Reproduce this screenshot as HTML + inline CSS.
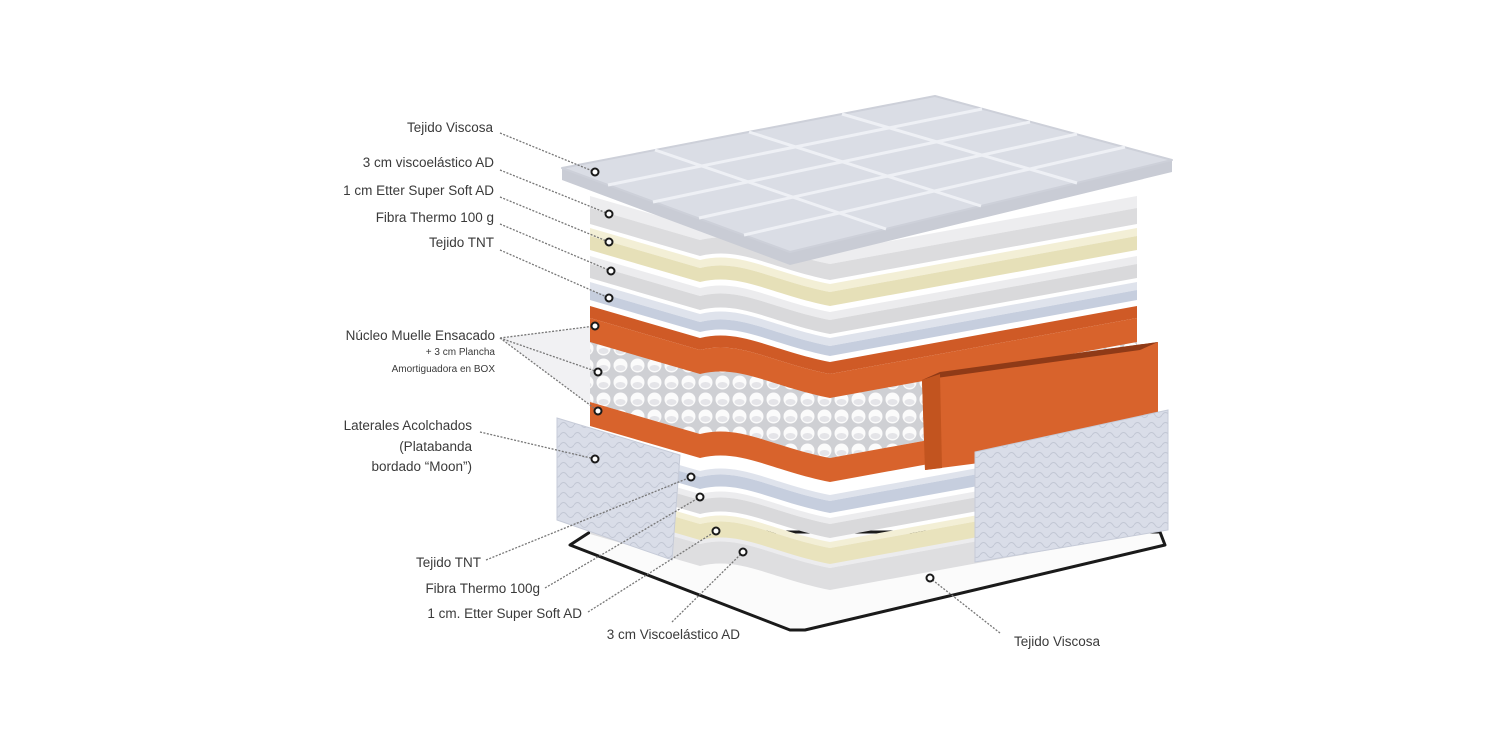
<!DOCTYPE html>
<html><head><meta charset="utf-8"><style>
html,body{margin:0;padding:0;background:#fff;}
svg{display:block;}
text{font-family:"Liberation Sans",sans-serif;fill:#3a3a3a;}
</style></head><body>
<svg width="1500" height="750" viewBox="0 0 1500 750" xmlns="http://www.w3.org/2000/svg">
<defs>
<pattern id="spr" width="17" height="17" patternUnits="userSpaceOnUse">
<rect width="17" height="17" fill="#cfd0d4"/>
<ellipse cx="8.5" cy="8.5" rx="7" ry="7" fill="#fbfbfb"/>
<ellipse cx="8.5" cy="11" rx="5" ry="3" fill="#e4e4e8"/>
</pattern>
<pattern id="quilt" width="14" height="10" patternUnits="userSpaceOnUse">
<rect width="14" height="10" fill="#d9dde8"/>
<path d="M0 5 Q3.5 0 7 5 T14 5" stroke="#c2c7d4" fill="none" stroke-width="1"/>
</pattern>
</defs>

<polygon points="500,338 595,326 598,411" fill="#f1f1f3"/>

<!-- bottom pad -->
<polygon points="570,545 590,532 1160,532 1165,545 805,630 790,630" fill="#fbfbfb" stroke="#1a1a1a" stroke-width="3" stroke-linejoin="round"/>

<!-- bottom layers (bottom first) -->
<path d="M590,506 L700,538 C740,528 770,550 830,562 L1137,506 L1137,512 L830,568 C770,556 740,534 700,544 L590,512 Z" fill="#ececee"/>
<path d="M590,512 L700,544 C740,534 770,556 830,568 L1137,512 L1137,534 L830,590 C770,578 740,556 700,566 L590,534 Z" fill="#dedee0"/>
<path d="M590,486 L700,518 C740,508 770,530 830,542 L1137,486 L1137,492 L830,548 C770,536 740,514 700,524 L590,492 Z" fill="#f3efd6"/>
<path d="M590,492 L700,524 C740,514 770,536 830,548 L1137,492 L1137,508 L830,564 C770,552 740,530 700,540 L590,508 Z" fill="#e9e3bd"/>
<path d="M590,462 L700,494 C740,484 770,506 830,518 L1137,462 L1137,468 L830,524 C770,512 740,490 700,500 L590,468 Z" fill="#ececee"/>
<path d="M590,468 L700,500 C740,490 770,512 830,524 L1137,468 L1137,482 L830,538 C770,526 740,504 700,514 L590,482 Z" fill="#d9d9db"/>
<path d="M590,439 L700,471 C740,461 770,483 830,495 L1137,439 L1137,445 L830,501 C770,489 740,467 700,477 L590,445 Z" fill="#dfe3ec"/>
<path d="M590,445 L700,477 C740,467 770,489 830,501 L1137,445 L1137,457 L830,513 C770,501 740,479 700,489 L590,457 Z" fill="#c6cede"/>

<!-- left quilted panel -->
<polygon points="557,418 680,455 672,560 557,520" fill="url(#quilt)" stroke="#c6cbd8"/>

<!-- springs -->
<path d="M590,330 L700,362 C740,352 770,374 830,386 L1137,330 L1137,402 L830,458 C770,446 740,424 700,434 L590,402 Z" fill="url(#spr)"/>
<!-- orange bottom -->
<path d="M590,402 L700,434 C740,424 770,446 830,458 L1137,402 L1137,426 L830,482 C770,470 740,448 700,458 L590,426 Z" fill="#d8632c"/>
<!-- orange top -->
<path d="M590,306 L700,338 C740,328 770,350 830,362 L1137,306 L1137,318 L830,374 C770,362 740,340 700,350 L590,318 Z" fill="#cf5a26"/>
<path d="M590,318 L700,350 C740,340 770,362 830,374 L1137,318 L1137,342 L830,398 C770,386 740,364 700,374 L590,342 Z" fill="#d8632c"/>

<!-- right orange block -->
<polygon points="922,380 940,372 1158,342 1158,440 925,470" fill="#d8632c"/>
<polygon points="922,380 940,372 1158,342 1140,350" fill="#8f3a17"/>
<polygon points="922,380 940,374 942,468 925,470" fill="#c2541f"/>

<!-- right quilted panel -->
<polygon points="975,452 1168,410 1168,530 975,562" fill="url(#quilt)" stroke="#c6cbd8"/>

<!-- top stack -->
<path d="M590,282 L700,314 C740,304 770,326 830,338 L1137,282 L1137,290 L830,346 C770,334 740,312 700,322 L590,290 Z" fill="#dfe3ec"/>
<path d="M590,290 L700,322 C740,312 770,334 830,346 L1137,290 L1137,300 L830,356 C770,344 740,322 700,332 L590,300 Z" fill="#c6cede"/>
<path d="M590,256 L700,288 C740,278 770,300 830,312 L1137,256 L1137,264 L830,320 C770,308 740,286 700,296 L590,264 Z" fill="#ececee"/>
<path d="M590,264 L700,296 C740,286 770,308 830,320 L1137,264 L1137,278 L830,334 C770,322 740,300 700,310 L590,278 Z" fill="#d9d9db"/>
<path d="M590,228 L700,260 C740,250 770,272 830,284 L1137,228 L1137,236 L830,292 C770,280 740,258 700,268 L590,236 Z" fill="#f3efd6"/>
<path d="M590,236 L700,268 C740,258 770,280 830,292 L1137,236 L1137,250 L830,306 C770,294 740,272 700,282 L590,250 Z" fill="#e6e0b8"/>
<path d="M590,196 L700,228 C740,218 770,240 830,252 L1137,196 L1137,208 L830,264 C770,252 740,230 700,240 L590,208 Z" fill="#ededef"/>
<path d="M590,208 L700,240 C740,230 770,252 830,264 L1137,208 L1137,224 L830,280 C770,268 740,246 700,256 L590,224 Z" fill="#dcdcde"/>

<!-- top pad -->
<polygon points="562,168 562,180 790,265 1172,172 1172,160 790,252" fill="#c9ccd5"/>
<polygon points="562,168 935,96 1172,160 790,252" fill="#dadde5" stroke="#cdd0d9" stroke-width="2" stroke-linejoin="round"/>
<g stroke="#eef0f5" stroke-width="3" fill="none">
<line x1="608" y1="185" x2="982" y2="109"/>
<line x1="653" y1="202" x2="1030" y2="122"/>
<line x1="699" y1="218" x2="1077" y2="134"/>
<line x1="744" y1="235" x2="1125" y2="147"/>
<line x1="655" y1="150" x2="886" y2="229"/>
<line x1="749" y1="132" x2="981" y2="206"/>
<line x1="842" y1="114" x2="1077" y2="183"/>
</g>

<!-- leader lines -->
<g stroke="#777" stroke-width="1.3" stroke-dasharray="2,1.5" fill="none">
<line x1="500" y1="133" x2="595" y2="172"/>
<line x1="500" y1="170" x2="609" y2="214"/>
<line x1="500" y1="197" x2="609" y2="242"/>
<line x1="500" y1="224" x2="611" y2="271"/>
<line x1="500" y1="250" x2="609" y2="298"/>
<line x1="500" y1="338" x2="595" y2="326"/>
<line x1="500" y1="338" x2="598" y2="372"/>
<line x1="500" y1="338" x2="598" y2="411"/>
<line x1="480" y1="432" x2="595" y2="459"/>
<line x1="486" y1="560" x2="691" y2="477"/>
<line x1="545" y1="588" x2="700" y2="497"/>
<line x1="588" y1="612" x2="716" y2="531"/>
<line x1="672" y1="622" x2="743" y2="552"/>
<line x1="1000" y1="633" x2="930" y2="578"/>
</g>
<g fill="#fff" stroke="#1a1a1a" stroke-width="2">
<circle cx="595" cy="172" r="3.5"/><circle cx="609" cy="214" r="3.5"/>
<circle cx="609" cy="242" r="3.5"/><circle cx="611" cy="271" r="3.5"/>
<circle cx="609" cy="298" r="3.5"/><circle cx="595" cy="326" r="3.5"/>
<circle cx="598" cy="372" r="3.5"/><circle cx="598" cy="411" r="3.5"/>
<circle cx="595" cy="459" r="3.5"/><circle cx="691" cy="477" r="3.5"/>
<circle cx="700" cy="497" r="3.5"/><circle cx="716" cy="531" r="3.5"/>
<circle cx="743" cy="552" r="3.5"/><circle cx="930" cy="578" r="3.5"/>
</g>

<g font-size="13.5" text-anchor="end">
<text x="493" y="132">Tejido Viscosa</text>
<text x="494" y="167">3 cm viscoelástico AD</text>
<text x="494" y="195">1 cm Etter Super Soft AD</text>
<text x="494" y="222">Fibra Thermo 100 g</text>
<text x="494" y="247">Tejido TNT</text>
<text x="495" y="340">Núcleo Muelle Ensacado</text>
<text x="495" y="355" font-size="10">+ 3 cm Plancha</text>
<text x="495" y="372" font-size="10">Amortiguadora en BOX</text>
<text x="472" y="430">Laterales Acolchados</text>
<text x="472" y="451">(Platabanda</text>
<text x="472" y="471">bordado “Moon”)</text>
<text x="481" y="567">Tejido TNT</text>
<text x="540" y="593">Fibra Thermo 100g</text>
<text x="582" y="618">1 cm. Etter Super Soft AD</text>
<text x="740" y="639">3 cm Viscoelástico AD</text>
<text x="1100" y="646">Tejido Viscosa</text>
</g>
</svg>
</body></html>
